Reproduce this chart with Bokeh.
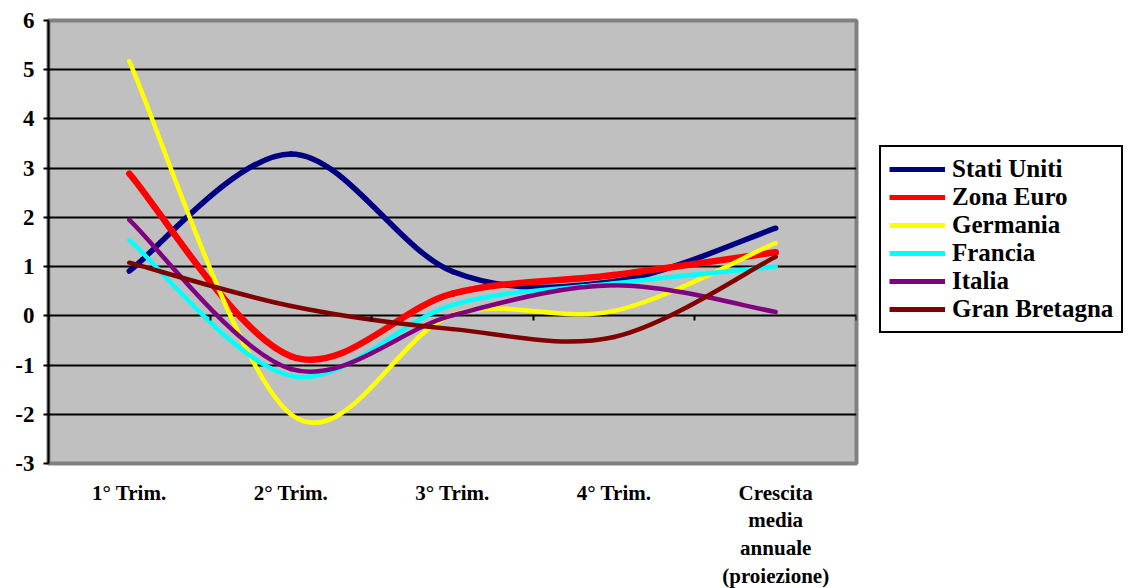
from bokeh.plotting import figure
from bokeh.models import (Range1d, FixedTicker, Legend, LegendItem, ColumnDataSource, LinearAxis)
from bokeh.embed import file_html
from bokeh.resources import INLINE

categories = ["1° Trim.", "2° Trim.", "3° Trim.", "4° Trim.", "Crescita\nmedia\nannuale\n(proiezione)"]
y_ticks = [-3, -2, -1, 0, 1, 2, 3, 4, 5, 6]
stati_uniti = [0.91, 3.29, 0.90, 0.70, 1.78]
zona_euro = [2.89, -0.82, 0.45, 0.83, 1.29]
germania = [5.17, -2.00, 0.02, 0.10, 1.48]
francia = [1.54, -1.22, 0.22, 0.66, 1.00]
italia = [1.95, -1.08, 0.01, 0.62, 0.08]
gran_bretagna = [1.08, 0.20, -0.27, -0.43, 1.20]

series = [
    ("Stati Uniti", stati_uniti, "#000080", 5.5),
    ("Zona Euro", zona_euro, "#FF0000", 6.5),
    ("Germania", germania, "#FFFF00", 4.5),
    ("Francia", francia, "#00FFFF", 4.5),
    ("Italia", italia, "#800080", 4.5),
    ("Gran Bretagna", gran_bretagna, "#800000", 4.5),
]

FONT = "Liberation Serif"

p = figure(frame_width=808, frame_height=443, output_backend="svg", toolbar_location=None,
           x_range=Range1d(-0.5, 4.5), y_range=Range1d(-3, 6),
           min_border_left=48, min_border_top=20, min_border_right=270, min_border_bottom=100)
p.background_fill_color = "#C0C0C0"
p.border_fill_color = "white"
p.outline_line_color = "#808080"
p.outline_line_width = 4

# y axis
p.yaxis.ticker = FixedTicker(ticks=y_ticks)
p.yaxis.major_label_overrides = {t: str(t) for t in y_ticks}
p.yaxis.axis_line_color = "black"
p.yaxis.axis_line_width = 2
p.yaxis.major_tick_line_color = "black"
p.yaxis.major_tick_line_width = 2
p.yaxis.major_tick_out = 5
p.yaxis.major_tick_in = 0
p.yaxis.minor_tick_line_color = None
p.yaxis.major_label_text_font = FONT
p.yaxis.major_label_text_font_style = "bold"
p.yaxis.major_label_text_font_size = "23px"
p.yaxis.major_label_text_color = "black"
p.yaxis.major_label_standoff = 9

# x axis (category labels)
xs = list(range(len(categories)))
p.xaxis.ticker = FixedTicker(ticks=xs)
p.xaxis.major_label_overrides = {i: c for i, c in enumerate(categories)}
p.xaxis.axis_line_color = None
p.xaxis.major_tick_line_color = None
p.xaxis.minor_tick_line_color = None
p.xaxis.major_label_text_font = FONT
p.xaxis.major_label_text_font_style = "bold"
p.xaxis.major_label_text_font_size = "21px"
p.xaxis.major_label_text_color = "black"
p.xaxis.major_label_standoff = 11
p.xaxis.major_label_text_line_height = 1.16

p.xgrid.grid_line_color = None
p.ygrid.ticker = FixedTicker(ticks=y_ticks)
p.ygrid.grid_line_color = "black"
p.ygrid.grid_line_width = 2

# smoothed series via cubic Bezier segments (Excel-style smoothing)
items = []
for name, vals, color, w in series:
    n = len(vals)
    x0, y0, x1, y1, cx0, cy0, cx1, cy1 = [], [], [], [], [], [], [], []
    for i in range(n - 1):
        xm, ym = (xs[i - 1], vals[i - 1]) if i > 0 else (xs[i], vals[i])
        xp2, yp2 = (xs[i + 2], vals[i + 2]) if i + 2 < n else (xs[i + 1], vals[i + 1])
        x0.append(xs[i]); y0.append(vals[i])
        x1.append(xs[i + 1]); y1.append(vals[i + 1])
        cx0.append(xs[i] + (xs[i + 1] - xm) / 6.0)
        cy0.append(vals[i] + (vals[i + 1] - ym) / 6.0)
        cx1.append(xs[i + 1] - (xp2 - xs[i]) / 6.0)
        cy1.append(vals[i + 1] - (yp2 - vals[i]) / 6.0)
    src = ColumnDataSource(dict(x0=x0, y0=y0, x1=x1, y1=y1, cx0=cx0, cy0=cy0, cx1=cx1, cy1=cy1))
    p.bezier(x0="x0", y0="y0", x1="x1", y1="y1", cx0="cx0", cy0="cy0", cx1="cx1", cy1="cy1",
             source=src, line_color=color, line_width=w, line_cap="round")
    # single-point line: invisible in the plot, used only as the legend swatch
    lr = p.line(x=[xs[0]], y=[vals[0]], line_color=color, line_width=5)
    items.append(LegendItem(label=name, renderers=[lr]))

# category-boundary ticks on the zero line (pointing down)
zaxis = LinearAxis(fixed_location=0, ticker=FixedTicker(ticks=[-0.5, 0.5, 1.5, 2.5, 3.5, 4.5]))
zaxis.axis_line_color = None
zaxis.major_tick_line_color = "black"
zaxis.major_tick_line_width = 2
zaxis.major_tick_out = 0
zaxis.major_tick_in = 5
zaxis.major_label_standoff = 0
zaxis.minor_tick_line_color = None
zaxis.major_label_text_font_size = "0px"
zaxis.major_label_text_color = None
p.add_layout(zaxis, "above")

legend = Legend(items=items, location=(23, 130))
legend.label_text_font = FONT
legend.label_text_font_style = "bold"
legend.label_text_font_size = "25px"
legend.label_text_color = "black"
legend.label_height = 20
legend.glyph_height = 20
legend.glyph_width = 56
legend.label_standoff = 7
legend.spacing = 0
legend.padding = 8
legend.margin = 0
legend.border_line_color = "black"
legend.border_line_alpha = 1
legend.border_line_width = 2
legend.background_fill_color = "white"
legend.background_fill_alpha = 1
p.add_layout(legend, "right")

open("out.html", "w").write(file_html(p, INLINE))
